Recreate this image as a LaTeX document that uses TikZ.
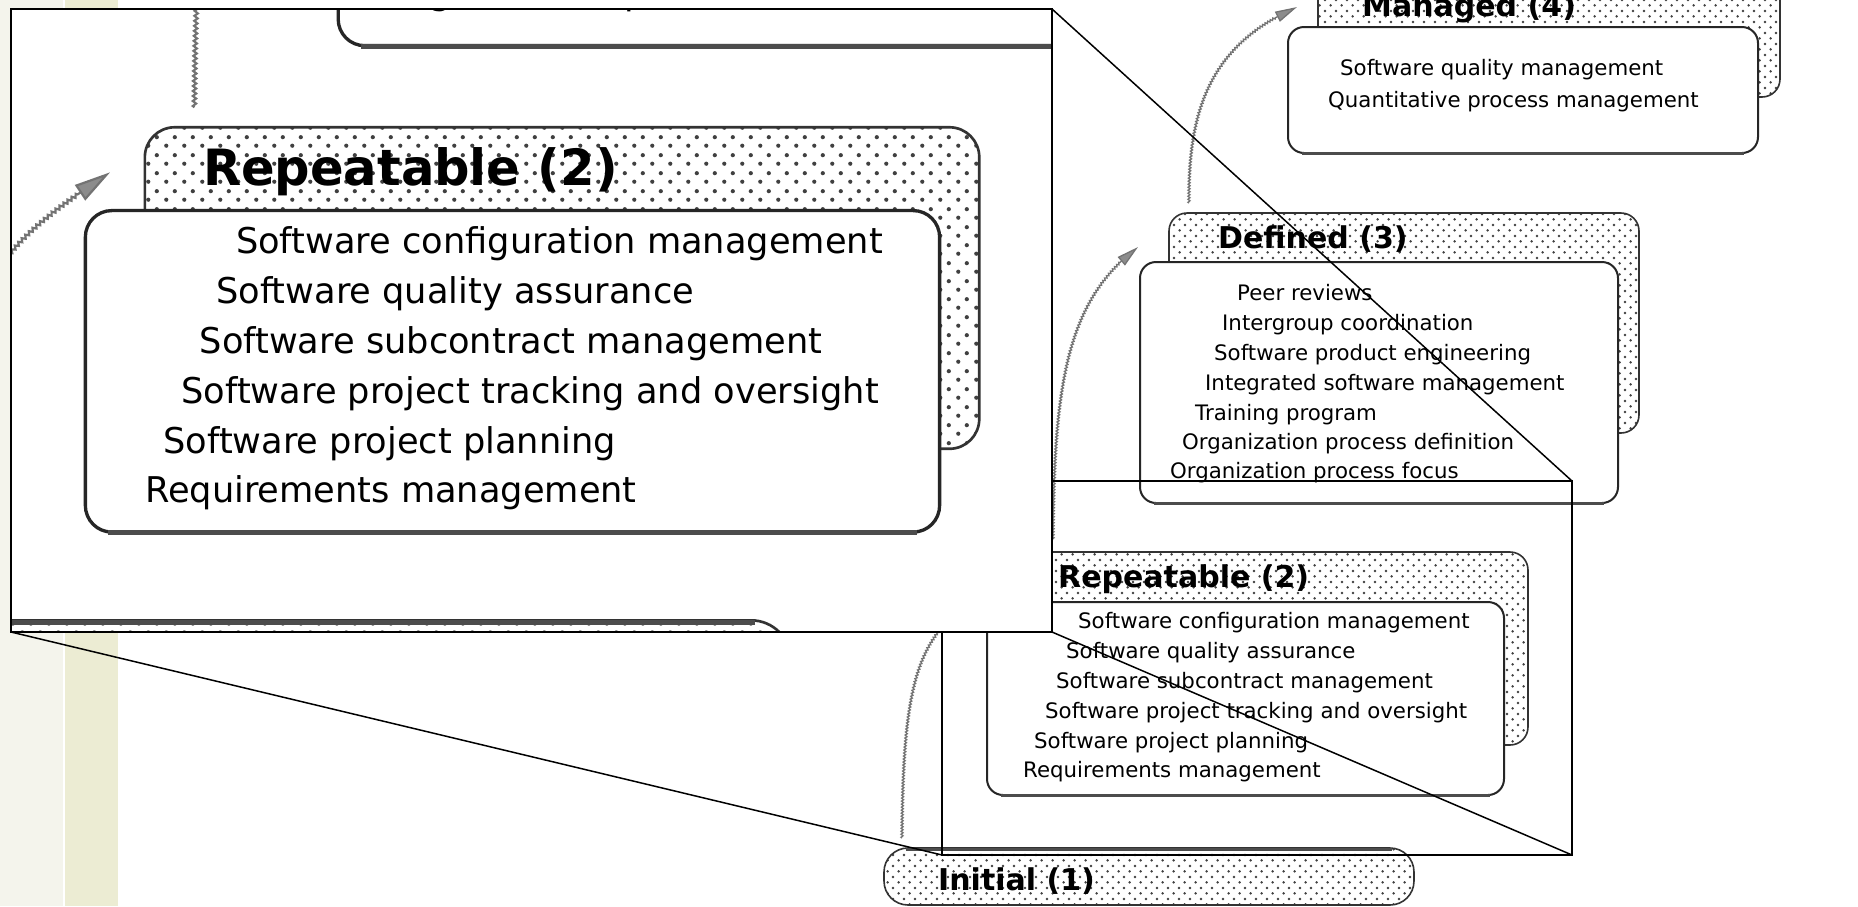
\documentclass[tikz,border=0pt]{standalone}
\usepackage{fontspec}
\setmainfont{DejaVu Sans}
\usetikzlibrary{arrows.meta,decorations.pathmorphing,patterns}

\definecolor{stripeA}{HTML}{F4F4EC}
\definecolor{stripeB}{HTML}{ECECD3}

% dot screen of the shadow boxes, plain and magnified
\pgfdeclarepatternformonly{stipple}{\pgfpointorigin}{\pgfpoint{10.8pt}{10.8pt}}{\pgfpoint{10.8pt}{10.8pt}}{%
  \pgfpathcircle{\pgfpoint{2.7pt}{2.7pt}}{1.35pt}%
  \pgfpathcircle{\pgfpoint{8.1pt}{8.1pt}}{1.35pt}%
  \pgfusepath{fill}}
\pgfdeclarepatternformonly{stipplebig}{\pgfpointorigin}{\pgfpoint{18pt}{18pt}}{\pgfpoint{18pt}{18pt}}{%
  \pgfpathcircle{\pgfpoint{4.5pt}{4.5pt}}{2.2pt}%
  \pgfpathcircle{\pgfpoint{13.5pt}{13.5pt}}{2.2pt}%
  \pgfusepath{fill}}

\tikzset{
  stippled/.style={pattern=stipple},
  shadowbox/.style={draw=black!80, line width=1.6pt, rounded corners=18pt,
    preaction={fill=white}, stippled, pattern color=black!75,
    inner sep=0pt, outer sep=0pt, anchor=north west},
  whitebox/.style={draw=black!85, fill=white, line width=2pt, rounded corners=16pt,
    inner sep=0pt, outer sep=0pt, anchor=north west},
  heavyedge/.style={draw=black!70, line width=3pt},
  level/.style={anchor=base west, inner sep=0pt, font=\fontsize{30pt}{36pt}\selectfont\bfseries},
  kpa/.style={anchor=base west, inner sep=0pt, font=\fontsize{21.3pt}{25pt}\selectfont, text=black},
  climb/.style={draw=black!55, line width=1.3pt, decorate,
    decoration={zigzag, segment length=3pt, amplitude=1pt, post=lineto, post length=24pt},
    -{Triangle[length=22pt, width=11pt, fill=black!45]}},
  viewport/.style={inner sep=0pt, outer sep=0pt, anchor=north west},
  zoomline/.style={line width=1.5pt},
}

% the five maturity levels
\newcommand{\cmmlevels}{%
  % Managed (4)
  \node[shadowbox, minimum width=462pt, minimum height=120pt] (mgdsh) at (1318,-23) {};
  \node[level] (mgd) at (1362,16) {Managed (4)};
  \node[whitebox, minimum width=470pt, minimum height=126pt] (mgdbox) at (1288,27) {};
  \draw[heavyedge] ([xshift=14pt,yshift=-0.5pt]mgdbox.south west) -- ([xshift=-14pt,yshift=-0.5pt]mgdbox.south east);
  \node[kpa] (m1) at (1340,75) {Software quality management};
  \node[kpa] (m2) at (1328,107) {Quantitative process management};
  % Defined (3)
  \node[shadowbox, minimum width=470pt, minimum height=220pt] (defsh) at (1169,213) {};
  \node[level] (def) at (1218,248) {Defined (3)};
  \node[whitebox, minimum width=478pt, minimum height=241pt] (defbox) at (1140,262) {};
  \draw[heavyedge] ([xshift=14pt,yshift=-0.5pt]defbox.south west) -- ([xshift=-14pt,yshift=-0.5pt]defbox.south east);
  \node[kpa] (d1) at (1237,300) {Peer reviews};
  \node[kpa] (d2) at (1222,330) {Intergroup coordination};
  \node[kpa] (d3) at (1214,360) {Software product engineering};
  \node[kpa] (d4) at (1205,390) {Integrated software management};
  \node[kpa] (d5) at (1195,420) {Training program};
  \node[kpa] (d6) at (1182,449) {Organization process definition};
  \node[kpa] (d7) at (1170,478) {Organization process focus};
  % Repeatable (2)
  \node[shadowbox, minimum width=505pt, minimum height=193pt] (repsh) at (1023,552) {};
  \node[level] (rep) at (1058,587) {Repeatable (2)};
  \node[whitebox, minimum width=517pt, minimum height=193pt] (repbox) at (987,602) {};
  \draw[heavyedge] ([xshift=14pt,yshift=-0.5pt]repbox.south west) -- ([xshift=-14pt,yshift=-0.5pt]repbox.south east);
  \node[kpa] (r1) at (1078,628) {Software configuration management};
  \node[kpa] (r2) at (1066,658) {Software quality assurance};
  \node[kpa] (r3) at (1056,688) {Software subcontract management};
  \node[kpa] (r4) at (1045,718) {Software project tracking and oversight};
  \node[kpa] (r5) at (1034,748) {Software project planning};
  \node[kpa] (r6) at (1023,777) {Requirements management};
  % Initial (1)
  \node[shadowbox, rounded corners=24pt, minimum width=530pt, minimum height=57pt] (inish) at (884,848) {};
  \draw[heavyedge] ([xshift=22pt,yshift=-1pt]inish.north west) -- ([xshift=-22pt,yshift=-1pt]inish.north east);
  \node[level] (ini) at (938,890) {Initial (1)};
  % steps up
  \draw[climb] ([xshift=18pt,yshift=10pt]inish.north west) .. controls +(1,-188) and +(-77,51) .. ([xshift=15pt,yshift=23pt]repbox.north west);
  \draw[climb] ([xshift=30pt,yshift=12pt]repsh.north west) .. controls +(1,-160) and +(-70,53) .. ([xshift=-2pt,yshift=15pt]defbox.north west);
  \draw[climb] ([xshift=20pt,yshift=10pt]defsh.north west) .. controls +(-1,-93) and +(-87,38) .. ([xshift=9pt,yshift=20pt]mgdbox.north west);
}

\begin{document}
\begin{tikzpicture}[x=1pt, y=-1pt]
  \useasboundingbox (0,0) rectangle (1858,906);
  \fill[white] (0,0) rectangle (1858,906);
  \fill[stripeA] (0,0) rectangle (63,906);
  \fill[stripeB] (65,0) rectangle (118,906);
  \node[viewport, minimum width=1041pt, minimum height=623pt] (lens) at (11,9) {};

  \cmmlevels

  % the region that is magnified
  \node[viewport, draw, line width=2pt, minimum width=630pt, minimum height=374pt] (src) at (942,481) {};
  \draw[zoomline] (lens.north east) -- (src.north east);
  \draw[zoomline] (lens.south west) -- (src.south west);
  \draw[zoomline] (lens.south east) -- (src.south east);

  % magnified view
  \fill[white] (lens.north west) rectangle (lens.south east);
  \begin{scope}
    \clip (lens.north west) rectangle (lens.south east);
    \begin{scope}[transform canvas={xshift=-1545.54pt, yshift=792.24pt, xscale=1.65238, yscale=1.66578},
        stippled/.style={pattern=stipplebig}]
      \cmmlevels
    \end{scope}
  \end{scope}
  \draw[line width=2pt] (lens.north west) rectangle (lens.south east);
\end{tikzpicture}
\end{document}
